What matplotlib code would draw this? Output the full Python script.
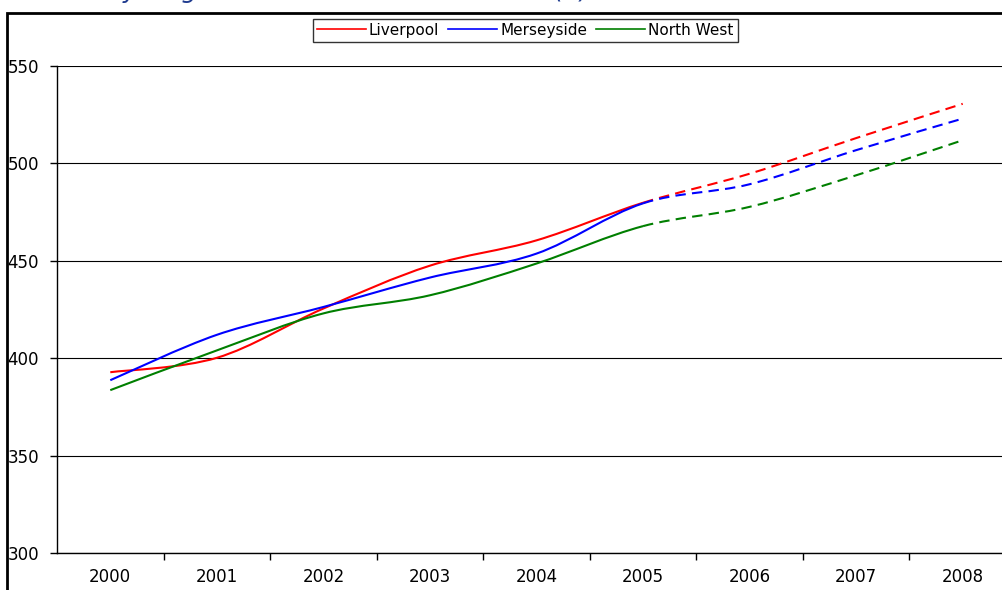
import matplotlib
matplotlib.use('agg')
import matplotlib.pyplot as plt
from matplotlib.path import Path
from matplotlib.patches import PathPatch, Rectangle
from matplotlib.lines import Line2D

# data
years = ['2000', '2001', '2002', '2003', '2004', '2005', '2006', '2007', '2008']
liverpool = [392.8, 400.2, 425.5, 447.5, 460.5, 479.8, 494.7, 513.0, 530.6]
merseyside = [388.7, 412.0, 426.3, 441.4, 453.7, 479.5, 489.3, 506.8, 523.0]
north_west = [383.6, 404.0, 423.0, 432.3, 448.6, 467.8, 477.7, 493.9, 511.9]
series_names = ['Liverpool', 'Merseyside', 'North West']
series_colors = ['#FF0000', '#0000FF', '#007F00']
last_actual = 5  # 2005, projections dashed after this

W, H = 1003, 590
fig = plt.figure(figsize=(W/100.0, H/100.0), dpi=100)

# plot area (runs off the right edge like the original screenshot)
left, right, top, bottom = 57, 1016, 66, 553
ax = fig.add_axes([left/W, 1-bottom/H, (right-left)/W, (bottom-top)/H])


def smooth_path(xs, ys, i0, i1):
    # excel style smoothed line: bezier through the points, catmull-rom tangents
    n = len(xs)
    verts = [(xs[i0], ys[i0])]
    codes = [Path.MOVETO]
    for i in range(i0, i1):
        p0 = max(i-1, 0)
        p3 = min(i+2, n-1)
        c1 = (xs[i] + (xs[i+1]-xs[p0])/6.0, ys[i] + (ys[i+1]-ys[p0])/6.0)
        c2 = (xs[i+1] - (xs[p3]-xs[i])/6.0, ys[i+1] - (ys[p3]-ys[i])/6.0)
        verts += [c1, c2, (xs[i+1], ys[i+1])]
        codes += [Path.CURVE4]*3
    return Path(verts, codes)


xs = list(range(len(years)))
handles = []
for vals, name, col in zip([liverpool, merseyside, north_west], series_names, series_colors):
    solid = PathPatch(smooth_path(xs, vals, 0, last_actual), fill=False, edgecolor=col, lw=1.5, zorder=3)
    dashed = PathPatch(smooth_path(xs, vals, last_actual, len(xs)-1), fill=False, edgecolor=col, lw=1.5,
                       linestyle=(0, (5, 3)), zorder=3)
    ax.add_patch(solid)
    ax.add_patch(dashed)
    handles.append(Line2D([], [], color=col, lw=1.2, label=name))

ax.set_xlim(-0.5, len(years)-0.5)
ax.set_ylim(300, 550)
ax.set_yticks(range(300, 551, 50))
ax.set_xticks(xs)
ax.set_xticklabels(years)
ax.set_xticks([x+0.5 for x in xs], minor=True)
ax.tick_params(axis='x', which='major', length=0, pad=11, labelsize=12)
ax.tick_params(axis='x', which='minor', length=5, width=1, direction='out')
ax.tick_params(axis='y', length=5, width=1, direction='out', pad=8, labelsize=12)
ax.yaxis.grid(True, color='#000000', lw=0.8)
ax.set_axisbelow(True)
for s in ['top', 'right']:
    ax.spines[s].set_visible(False)
for s in ['left', 'bottom']:
    ax.spines[s].set_linewidth(1)

leg = fig.legend(handles=handles, loc='upper left', bbox_to_anchor=(313/W, 1-19/H), ncol=3,
                 frameon=True, fancybox=False, fontsize=11, handlelength=3.2, handletextpad=0.2,
                 columnspacing=0.6, borderpad=0.25, borderaxespad=0)
leg.get_frame().set_edgecolor('black')
leg.get_frame().set_linewidth(1)

# chart area border
fig.patches.append(Rectangle((7/W, -0.1), 1.2, 1-13/H+0.1, transform=fig.transFigure,
                             fill=False, edgecolor='black', lw=2))
# title sits mostly above the screenshot, only its descenders show
fig.text(46/W, 1+2/H, 'Weekly wages of full time male workers (£)', color='#1F3B8F',
         fontsize=18, style='italic', ha='left', va='baseline')

plt.savefig('out.png', dpi=100)
plt.close(fig)
